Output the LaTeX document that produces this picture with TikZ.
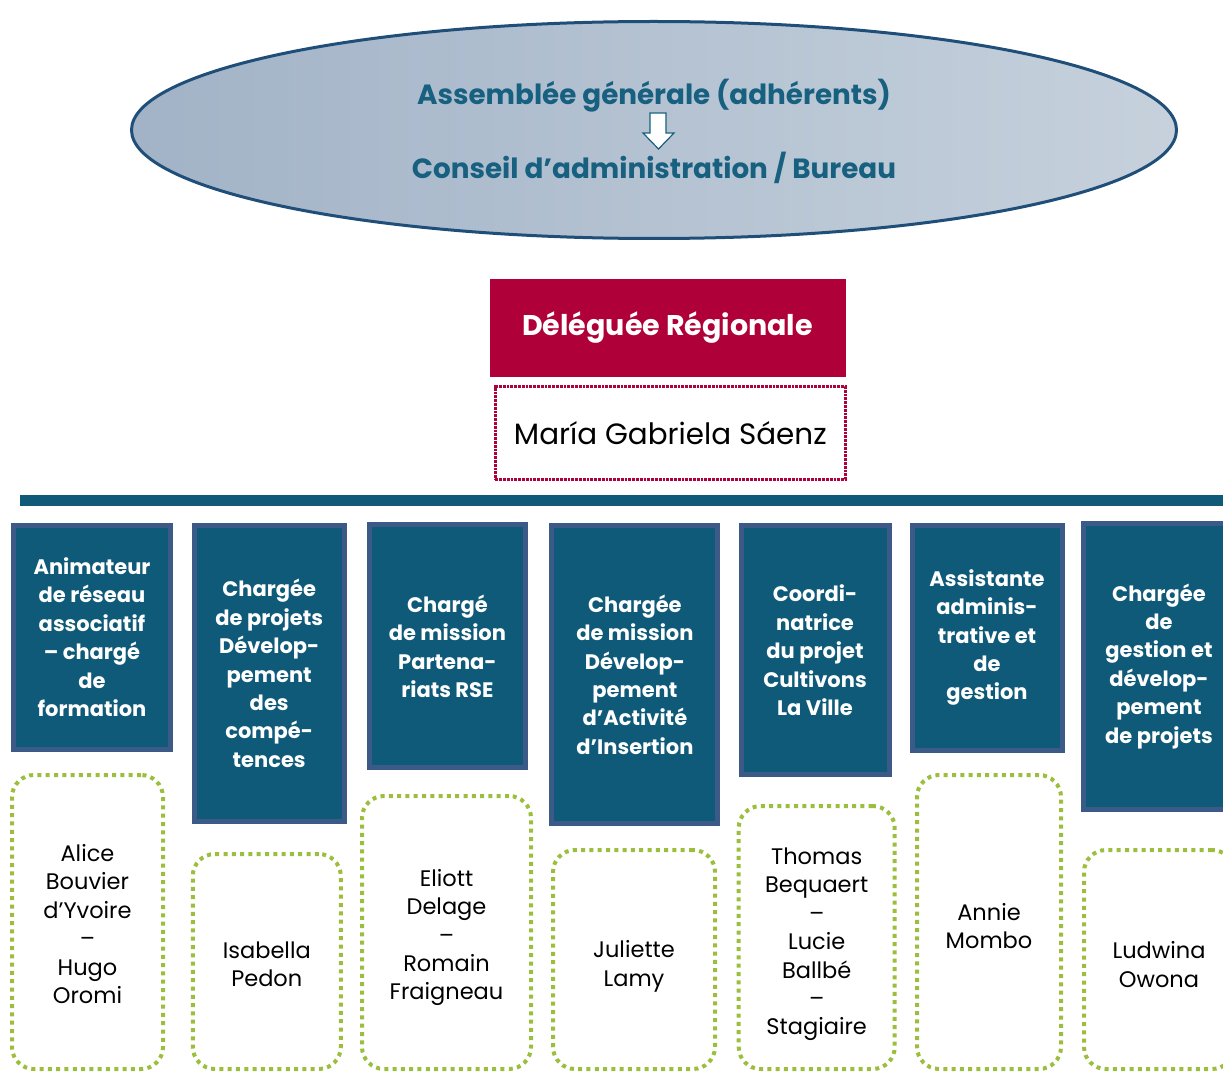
\documentclass[tikz,border=0pt]{standalone}
\usepackage{fontspec}
\setmainfont{Poppins}
\usetikzlibrary{shapes.geometric}
\definecolor{rolefill}{HTML}{0F5A78}
\definecolor{rolebd}{HTML}{3C5A88}
\definecolor{ellL}{HTML}{A2B3C7}
\definecolor{ellR}{HTML}{C6D1DC}
\definecolor{ellbd}{HTML}{1F4E79}
\definecolor{elltext}{HTML}{17607F}
\definecolor{redbox}{HTML}{B0003A}
\definecolor{pgreen}{HTML}{9BBE3C}
\tikzset{
  role/.style={draw=rolebd, line width=5pt, fill=rolefill, text=white, inner sep=0pt,
    align=center, font=\bfseries\fontsize{21}{28.4}\selectfont},
  person/.style={draw=pgreen, line width=4pt, dash pattern=on 4pt off 4.3pt,
    rounded corners=22pt, inner sep=0pt},
  persontext/.style={align=center, text=black, inner sep=0pt,
    font=\fontsize{22.5}{28.4}\selectfont},
  elltitle/.style={text=elltext, font=\bfseries\fontsize{27.8}{30}\selectfont, inner sep=0pt},
}
\begin{document}
\begin{tikzpicture}[x=1pt,y=-1pt]
\clip (0,0) rectangle (1223,1075);
\useasboundingbox (0,0) rectangle (1223,1075);
% top ellipse
\node[ellipse, draw=ellbd, line width=3pt, left color=ellL, right color=ellR,
  minimum width=1045pt, minimum height=217pt] (ell) at (654,130) {};
\node[elltitle] (ag) at (654,96) {Assemblée générale (adhérents)};
\node[elltitle] (ca) at (654,168) {Conseil d’administration / Bureau};
\draw[draw=elltext, line width=1.2pt, fill=white]
  (650,113) -- (666,113) -- (666,133) -- (674,133) -- (658.5,149) -- (643,133) -- (650,133) -- cycle;
% delegate
\node[fill=redbox, text=white, minimum width=356pt, minimum height=98pt, inner sep=0pt,
  font=\bfseries\fontsize{28.5}{30}\selectfont] (dr) at (667.5,328) {Déléguée Régionale};
\node[draw=redbox, line width=3.5pt, dash pattern=on 2.8pt off 1pt, minimum width=350pt,
  minimum height=93pt, inner sep=0pt, font=\fontsize{29.4}{30}\selectfont] (mg) at (670.3,433) {María Gabriela Sáenz};
% bar
\node[fill=rolefill, minimum width=1230pt, minimum height=11pt, inner sep=0pt, anchor=west] (bar) at (20,500.4) {};
% roles
\node[role, minimum width=157pt, minimum height=224pt] (r1) at (92,637.2)
  {Animateur\\de réseau\\associatif\\– chargé\\de\\formation};
\node[role, minimum width=150pt, minimum height=296pt] (r2) at (269.2,673.4)
  {Chargée\\de projets\\Dévelop-\\pement\\des\\compé-\\tences};
\node[role, minimum width=156pt, minimum height=243pt] (r3) at (447.4,646.2)
  {Chargé\\de mission\\Partena-\\riats RSE};
\node[role, minimum width=166pt, minimum height=298pt] (r4) at (634.9,674.7)
  {Chargée\\de mission\\Dévelop-\\pement\\d’Activité\\d’Insertion};
\node[role, minimum width=148pt, minimum height=249pt] (r5) at (815,650.3)
  {Coordi-\\natrice\\du projet\\Cultivons\\La Ville};
\node[role, minimum width=150pt, minimum height=225pt] (r6) at (987,637.5)
  {Assistante\\adminis-\\trative et\\de\\gestion};
\node[role, minimum width=151pt, minimum height=286pt] (r7) at (1159,666.2)
  {Chargée\\de\\gestion et\\dévelop-\\pement\\de projets};
% persons
\node[person, minimum width=151pt, minimum height=294pt] (p1) at (87.5,922) {};
\node[person, minimum width=148pt, minimum height=215pt] (p2) at (266.8,961.5) {};
\node[person, minimum width=169pt, minimum height=273pt] (p3) at (446.5,932.5) {};
\node[person, minimum width=162pt, minimum height=219pt] (p4) at (634,959.5) {};
\node[person, minimum width=156pt, minimum height=263pt] (p5) at (816.7,937.5) {};
\node[person, minimum width=144pt, minimum height=294pt] (p6) at (989,922) {};
\node[person, minimum width=150pt, minimum height=219pt] (p7) at (1159,959.5) {};
\node[persontext] (t1) at ([yshift=-2pt]p1.center) {Alice\\Bouvier\\d’Yvoire\\–\\Hugo\\Oromi};
\node[persontext] (t2) at ([yshift=-3pt]p2.center) {Isabella\\Pedon};
\node[persontext] (t3) at ([yshift=-5pt]p3.center) {Eliott\\Delage\\–\\Romain\\Fraigneau};
\node[persontext] (t4) at ([yshift=-7pt]p4.center) {Juliette\\Lamy};
\node[persontext] (t5) at ([yshift=-7pt]p5.center) {Thomas\\Bequaert\\–\\Lucie\\Ballbé\\–\\Stagiaire};
\node[persontext] (t6) at ([yshift=-4pt]p6.center) {Annie\\Mombo};
\node[persontext] (t7) at ([yshift=-5pt]p7.center) {Ludwina\\Owona};
\end{tikzpicture}
\end{document}
